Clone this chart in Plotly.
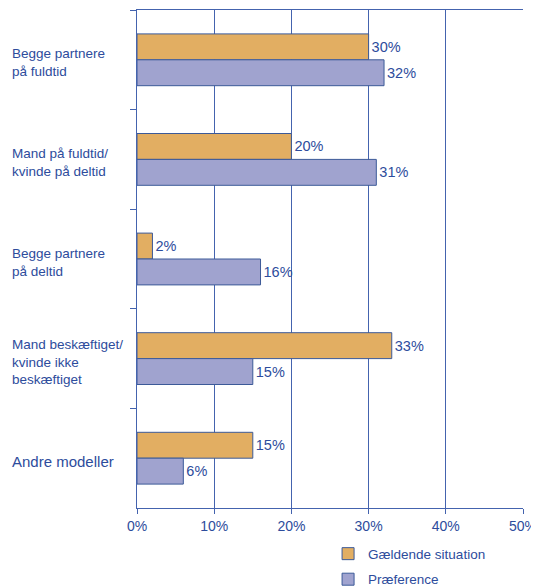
import plotly.graph_objects as go

categories = ["Begge partnere<br>på fuldtid",
              "Mand på fuldtid/<br>kvinde på deltid",
              "Begge partnere<br>på deltid",
              "Mand beskæftiget/<br>kvinde ikke<br>beskæftiget",
              "Andre modeller"]
cat_ids = ["c1", "c2", "c3", "c4", "c5"]
current = [30, 20, 2, 33, 15]
preference = [32, 31, 16, 15, 6]
series_names = ["Gældende situation", "Præference"]

TXT = "#2D4C9C"
GRID = "#4463AE"
EDGE = "#3C5A98"
FONT = "Liberation Sans, Arial, sans-serif"

fig = go.Figure()
fig.add_trace(go.Bar(
    y=cat_ids, x=current, orientation="h", name=series_names[0],
    legendgroup="g1",
    marker=dict(color="#E2AE62", line=dict(color=EDGE, width=1)),
    text=[f"{v}%" for v in current], textposition="outside",
    textfont=dict(color=TXT, size=14.5, family=FONT), cliponaxis=False,
))
fig.add_trace(go.Bar(
    y=cat_ids, x=preference, orientation="h", name=series_names[1],
    legendgroup="g2",
    marker=dict(color="#A0A3CF", line=dict(color=EDGE, width=1)),
    text=[f"{v}%" for v in preference], textposition="outside",
    textfont=dict(color=TXT, size=14.5, family=FONT), cliponaxis=False,
))

for cid, lab in zip(cat_ids, categories):
    big = "Andre" in lab
    fig.add_annotation(x=-0.329, xref="paper", y=cid, yref="y", text=lab,
                       showarrow=False, xanchor="left", align="left",
                       yshift=-3,
                       font=dict(color=TXT, size=15 if big else 13.5, family=FONT))

fig.update_layout(
    width=531, height=580,
    margin=dict(l=129, r=16, t=2, b=80, autoexpand=False),
    paper_bgcolor="white", plot_bgcolor="white",
    barmode="group", bargap=0.48, bargroupgap=0,
    font=dict(family=FONT, color=TXT, size=13),
    showlegend=True,
    legend=dict(x=0.495, xanchor="left", y=-0.061, yanchor="top",
                orientation="v", font=dict(size=13.5, color=TXT, family=FONT),
                tracegroupgap=5, itemwidth=30),
)
fig.update_xaxes(range=[0, 50], dtick=10, ticksuffix="%",
                 showgrid=True, gridcolor=GRID, gridwidth=1,
                 showline=True, linecolor=GRID, linewidth=1, mirror=True,
                 ticks="outside", ticklen=5, tickcolor=GRID,
                 tickfont=dict(size=14, color=TXT), zeroline=False, fixedrange=True)
fig.update_yaxes(autorange="reversed", showticklabels=False,
                 showline=True, linecolor=GRID, linewidth=1,
                 ticks="outside", ticklen=6, tickcolor=GRID,
                 tickson="boundaries", showgrid=False)

fig.write_html("out.html")
